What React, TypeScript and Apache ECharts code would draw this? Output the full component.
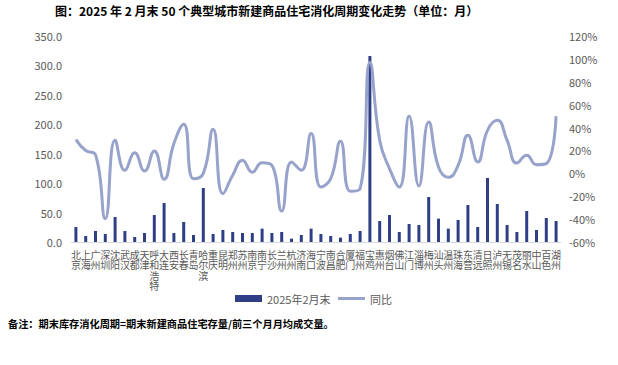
import React, { useEffect, useRef } from "react";
import * as echarts from "echarts";

const cities = [
  "北京", "上海", "广州", "深圳", "沈阳", "武汉", "成都", "天津", "呼和浩特", "大连",
  "西安", "长春", "青岛", "哈尔滨", "重庆", "昆明", "郑州", "苏州", "南京", "南宁",
  "长沙", "兰州", "杭州", "济南", "海口", "宁波", "南昌", "合肥", "厦门", "福州",
  "宝鸡", "惠州", "烟台", "佛山", "江门", "淄博", "梅州", "汕头", "温州", "珠海",
  "东营", "清远", "日照", "泸州", "无锡", "茂名", "丽水", "中山", "百色", "湖州",
];

const cycleFeb2025 = [
  25.5, 10.2, 18.7, 13.6, 42.5, 18.7, 8.5, 15.3, 45.9, 66.3,
  15.3, 34.0, 11.9, 91.8, 13.6, 20.4, 17.0, 15.3, 15.3, 22.7,
  15.3, 17.0, 5.7, 11.9, 22.7, 13.6, 10.2, 7.4, 13.6, 18.7,
  316.0, 35.7, 45.9, 17.0, 30.6, 28.9, 76.5, 39.7, 22.7, 37.4,
  62.9, 25.5, 108.8, 64.6, 28.9, 17.0, 52.7, 20.4, 40.8, 35.7,
];

const yoy = [
  29.5, 20.0, 16.3, -39.6, 28.8, 2.6, 18.0, 2.0, 19.5, -5.2,
  26.0, 42.8, -4.7, 0.0, 38.5, -17.8, -1.7, 11.4, 1.0, 9.3,
  7.0, -33.0, 9.9, 2.6, 34.7, -12.0, -4.7, 28.0, -15.7, -13.4,
  97.0, 28.8, 4.1, -12.0, 50.0, -11.0, 44.8, 5.5, -3.5, 7.0,
  33.2, 9.9, 37.6, 46.3, 28.8, 9.0, 15.7, 7.6, 8.5, 50.0,
];

const leftTicks = { min: 0, max: 350, interval: 50 };
const rightTicks = { min: -60, max: 120, interval: 20 };

const titleText = "图：2025 年 2 月末 50 个典型城市新建商品住宅消化周期变化走势（单位：月）";
const noteText = "备注：期末库存消化周期=期末新建商品住宅存量/前三个月月均成交量。";
const seriesNames = ["2025年2月末", "同比"];

export default function App() {
  const ref = useRef<HTMLDivElement>(null);
  useEffect(() => {
    if (!ref.current) return;
    const chart = echarts.init(ref.current, undefined, { renderer: "svg" });
    const font = "'Noto Sans CJK SC', 'Noto Sans', sans-serif";
    chart.setOption({
      animation: false,
      backgroundColor: "#ffffff",
      textStyle: { fontFamily: font },
      graphic: [
        {
          type: "text",
          left: 55,
          top: 4,
          style: { text: titleText, fontSize: 12, fontWeight: "bold", fill: "#000", fontFamily: font },
        },
        {
          type: "text",
          left: 8,
          top: 318,
          style: { text: noteText, fontSize: 10.2, fontWeight: "bold", fill: "#000", fontFamily: font },
        },
      ],
      legend: {
        data: [
          { name: seriesNames[0], icon: "rect" },
          { name: seriesNames[1], itemStyle: { opacity: 0 }, lineStyle: { width: 3, color: "#98a3cb" } },
        ],
        left: 230,
        top: 288,
        itemWidth: 27,
        itemHeight: 7,
        itemGap: 6,
        textStyle: { fontSize: 11, color: "#595959", fontFamily: font },
      },
      grid: { left: 71, right: 57, top: 36, bottom: 123 },
      xAxis: {
        type: "category",
        data: cities,
        axisLine: { lineStyle: { color: "#d9d9d9", width: 1 } },
        axisTick: { show: false },
        axisLabel: {
          interval: 0,
          fontSize: 10,
          lineHeight: 10.5,
          color: "#595959",
          margin: 7,
          verticalAlign: "top",
          formatter: (v: string) => v.split("").join("\n"),
        },
      },
      yAxis: [
        {
          type: "value",
          min: leftTicks.min,
          max: leftTicks.max,
          interval: leftTicks.interval,
          axisLine: { show: false },
          axisTick: { show: false },
          splitLine: { show: false },
          axisLabel: {
            fontSize: 11,
            color: "#595959",
            margin: 9,
            formatter: (v: number) => v.toFixed(1),
          },
        },
        {
          type: "value",
          min: rightTicks.min,
          max: rightTicks.max,
          interval: rightTicks.interval,
          axisLine: { show: false },
          axisTick: { show: false },
          splitLine: { show: false },
          axisLabel: {
            fontSize: 11,
            color: "#595959",
            margin: 8,
            formatter: "{value}%",
          },
        },
      ],
      series: [
        {
          name: seriesNames[0],
          type: "bar",
          data: cycleFeb2025,
          yAxisIndex: 0,
          barWidth: 3,
          itemStyle: { color: "#2f3f86" },
        },
        {
          name: seriesNames[1],
          type: "line",
          data: yoy,
          yAxisIndex: 1,
          smooth: 0.5,
          symbol: "none",
          lineStyle: { color: "#98a3cb", width: 3 },
          itemStyle: { color: "#98a3cb" },
        },
      ],
    });
    return () => chart.dispose();
  }, []);
  return <div ref={ref} style={{ width: 618, height: 365, position: "absolute", left: 0, top: 0 }} />;
}
